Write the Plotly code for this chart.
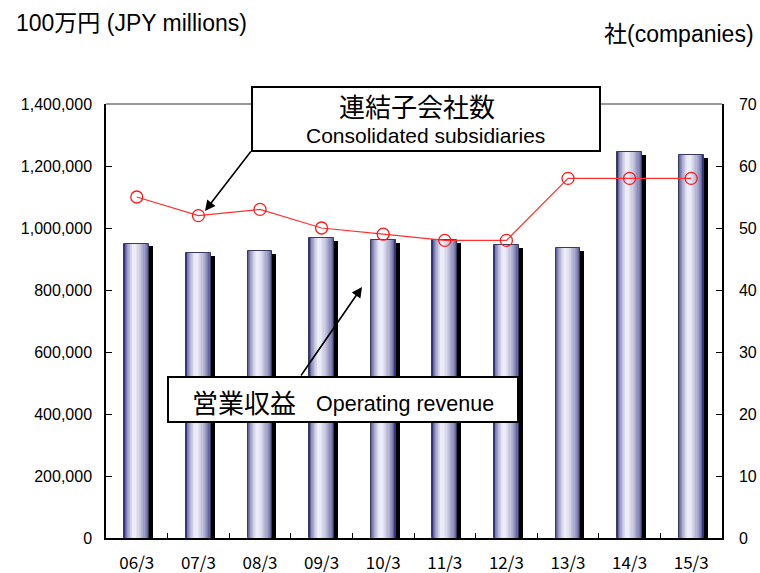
import plotly.graph_objects as go

# ---- data ----
categories = ["06/3", "07/3", "08/3", "09/3", "10/3", "11/3", "12/3", "13/3", "14/3", "15/3"]
revenue = [950000, 920000, 925000, 968000, 960000, 961000, 945000, 934000, 1246000, 1235000]
subsidiaries = [55, 52, 53, 50, 49, 48, 48, 58, 58, 58]
left_ticks = [0, 200000, 400000, 600000, 800000, 1000000, 1200000, 1400000]
right_ticks = [0, 10, 20, 30, 40, 50, 60, 70]

# ---- layout geometry (pixels) ----
W, H = 760, 573
PL, PR, PT, PB = 106, 722, 104, 538
pw, ph = PR - PL, PB - PT


def px(x):
    return (x - PL) / pw


def py(y):
    return (PB - y) / ph


EN = "Liberation Sans, Arial, Noto Sans CJK JP"
JP = "Noto Sans CJK JP, Liberation Sans"

fig = go.Figure()

BW = 0.405
# shadow
fig.add_trace(go.Bar(
    x=categories, y=[v - 9000 for v in revenue], width=BW, offset=-BW / 2 + 0.065,
    marker=dict(color="#000000", line=dict(width=0)), showlegend=False, hoverinfo="skip"))

# gradient cylinder layers
n = 12
L, R = -BW / 2, BW / 2
peak = -0.04
dark = (52, 52, 128)
light = (236, 236, 248)
for k in range(n):
    t = k / (n - 1)
    left = L + (peak - 0.03 - L) * t
    right = R - (R - (peak + 0.03)) * t
    tt = t ** 0.55
    c = tuple(int(dark[i] + (light[i] - dark[i]) * tt) for i in range(3))
    line = dict(width=1, color="#3a3a60") if k == 0 else dict(width=0)
    fig.add_trace(go.Bar(
        x=categories, y=revenue, width=right - left, offset=left,
        marker=dict(color="rgb(%d,%d,%d)" % c, line=line),
        showlegend=False, hoverinfo="skip"))

fig.add_trace(go.Scatter(
    x=categories, y=subsidiaries, yaxis="y2", mode="lines+markers",
    line=dict(color="#ff3030", width=1.2),
    marker=dict(symbol="circle-open", size=12, color="#ff1a1a", line=dict(width=1.3)),
    showlegend=False))

shapes = [
    # top border (gray)
    dict(type="line", xref="paper", yref="paper", x0=0, x1=1, y0=1, y1=1,
         line=dict(color="#999999", width=2)),
    # annotation boxes
    dict(type="rect", xref="paper", yref="paper", x0=px(252), x1=px(600), y0=py(151), y1=py(87),
         fillcolor="white", line=dict(color="black", width=2), layer="above"),
    dict(type="rect", xref="paper", yref="paper", x0=px(168), x1=px(518), y0=py(422), y1=py(377),
         fillcolor="white", line=dict(color="black", width=2), layer="above"),
]

annotations = [
    dict(text="100万円 (JPY millions)", xref="paper", yref="paper", x=px(14), y=py(23),
         xanchor="left", yanchor="middle", showarrow=False, font=dict(family=EN, size=23, color="black")),
    dict(text="社(companies)", xref="paper", yref="paper", x=px(756), y=py(34),
         xanchor="right", yanchor="middle", showarrow=False, font=dict(family=EN, size=23, color="black")),
    dict(text="連結子会社数", xref="paper", yref="paper", x=px(417), y=py(106),
         xanchor="center", yanchor="middle", showarrow=False, font=dict(family=JP, size=26, color="black")),
    dict(text="Consolidated subsidiaries", xref="paper", yref="paper", x=px(425), y=py(135),
         xanchor="center", yanchor="middle", showarrow=False, font=dict(family=EN, size=21, color="black")),
    dict(text="営業収益", xref="paper", yref="paper", x=px(190), y=py(401),
         xanchor="left", yanchor="middle", showarrow=False, font=dict(family=JP, size=26, color="black")),
    dict(text="Operating revenue", xref="paper", yref="paper", x=px(314), y=py(404),
         xanchor="left", yanchor="middle", showarrow=False, font=dict(family=EN, size=21.5, color="black")),
    # arrows
    dict(text="", xref="paper", yref="paper", x=px(205), y=py(211), ax=47, ay=-61,
         showarrow=True, arrowhead=2, arrowsize=1.3, arrowwidth=1.6, arrowcolor="black"),
    dict(text="", xref="paper", yref="paper", x=px(362), y=py(287), ax=-62, ay=90,
         showarrow=True, arrowhead=2, arrowsize=1.3, arrowwidth=1.6, arrowcolor="black"),
]

fig.update_layout(
    width=W, height=H,
    margin=dict(l=PL, r=W - PR, t=PT, b=H - PB, pad=0, autoexpand=False),
    paper_bgcolor="white", plot_bgcolor="white",
    barmode="overlay", bargap=0,
    xaxis=dict(type="category", categoryorder="array", categoryarray=categories,
               showgrid=False, zeroline=False, showline=True, linecolor="black", linewidth=2,
               ticks="inside", tickson="boundaries", ticklen=5, tickcolor="black",
               ticklabelstandoff=9, automargin=False,
               tickfont=dict(family=JP, size=17, color="black"), range=[-0.5, 9.5]),
    yaxis=dict(range=[0, 1400000], tickvals=left_ticks, tickformat=",",
               showgrid=False, zeroline=False, showline=True, linecolor="black", linewidth=1.5,
               ticks="inside", ticklen=6, tickcolor="black", ticklabelstandoff=9, automargin=False,
               tickfont=dict(family=EN, size=16, color="black")),
    yaxis2=dict(range=[0, 70], tickvals=right_ticks, overlaying="y", side="right",
                showgrid=False, zeroline=False, showline=True, linecolor="black", linewidth=1.5,
                ticks="inside", ticklen=6, tickcolor="black", ticklabelstandoff=12, automargin=False,
                tickfont=dict(family=EN, size=16, color="black")),
    shapes=shapes, annotations=annotations,
)

fig.write_html(
    "out.html",
    config={"displayModeBar": False},
    post_script="document.body.style.margin='0';document.body.style.overflow='hidden';",
)
